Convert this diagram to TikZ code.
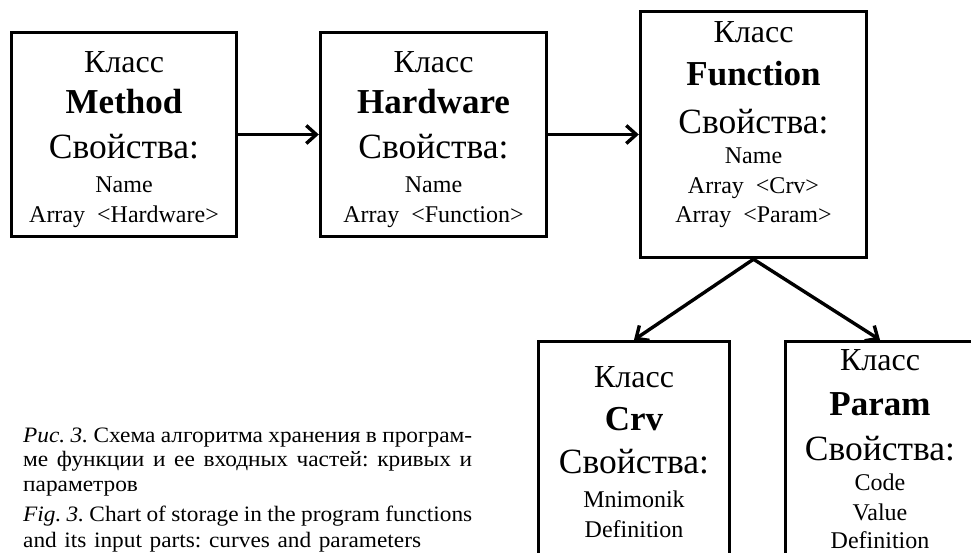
\documentclass[tikz,border=0pt]{standalone}
\usepackage{fontspec}
\setmainfont{Liberation Serif}
\newfontfamily\capfont{Liberation Serif}[FakeStretch=1.06]
\usetikzlibrary{arrows.meta}
\newcommand{\fk}{\fontsize{32}{34}\selectfont}
\newcommand{\fb}{\fontsize{35}{37}\selectfont\bfseries}
\newcommand{\fs}{\fontsize{35.5}{37}\selectfont}
\newcommand{\fn}{\fontsize{24}{26}\selectfont}
\newcommand{\fc}{\capfont\fontsize{22}{24}\selectfont\frenchspacing}
\newcommand{\gap}{\hspace{0.5em}}
\newcommand{\jline}[1]{\makebox[449pt][s]{\spaceskip=4pt plus 1fil\relax #1}}
\newcommand{\wline}[1]{{\spaceskip=7.6pt\relax #1}}
\begin{document}
\begin{tikzpicture}[x=1pt,y=-1pt,
  box/.style={draw, line width=3.4pt, inner sep=0pt},
  txt/.style={anchor=base, inner sep=0pt},
  captxt/.style={anchor=base west, inner sep=0pt, font=\fc},
  arr/.style={line width=3.4pt, -{Straight Barb[length=10pt,width=18pt,line width=3.4pt]}}]
\useasboundingbox (0,0) rectangle (971,552);
\clip (0,0) rectangle (971,552);
\fill[white] (0,0) rectangle (971,552);

% boxes
\node[box, minimum width=225pt, minimum height=204pt] (m) at (124,134.5) {};
\node[box, minimum width=226pt, minimum height=204pt] (h) at (433.5,134.5) {};
\node[box, minimum width=226pt, minimum height=246pt] (f) at (753.5,134.5) {};
\node[box, minimum width=191pt, minimum height=260pt] (c) at (634,471.6) {};
\node[box, minimum width=189pt, minimum height=260pt] (p) at (880,471.6) {};

% Method
\node[txt] (m1) at (124,72) {\fk Класс};
\node[txt] (m2) at (124,113) {\fb Method};
\node[txt] (m3) at (124,158) {\fs Свойства:};
\node[txt] (m4) at (124,192) {\fn Name};
\node[txt] (m5) at (124,222) {\fn Array\gap<Hardware>};

% Hardware
\node[txt] (h1) at (433.5,72) {\fk Класс};
\node[txt] (h2) at (433.5,113) {\fb Hardware};
\node[txt] (h3) at (433.5,158) {\fs Свойства:};
\node[txt] (h4) at (433.5,192) {\fn Name};
\node[txt] (h5) at (433.5,222) {\fn Array\gap<Function>};

% Function
\node[txt] (f1) at (753.5,42) {\fk Класс};
\node[txt] (f2) at (753.5,85) {\fb Function};
\node[txt] (f3) at (753.5,133) {\fs Свойства:};
\node[txt] (f4) at (753.5,163) {\fn Name};
\node[txt] (f5) at (753.5,193) {\fn Array\gap<Crv>};
\node[txt] (f6) at (753.5,222) {\fn Array\gap<Param>};

% Crv
\node[txt] (c1) at (634,387) {\fk Класс};
\node[txt] (c2) at (634,430) {\fb Crv};
\node[txt] (c3) at (634,473) {\fs Свойства:};
\node[txt] (c4) at (634,507) {\fn Mnimonik};
\node[txt] (c5) at (634,537) {\fn Definition};

% Param
\node[txt] (p1) at (880,370) {\fk Класс};
\node[txt] (p2) at (880,415) {\fb Param};
\node[txt] (p3) at (880,460) {\fs Свойства:};
\node[txt] (p4) at (880,490) {\fn Code};
\node[txt] (p5) at (880,520) {\fn Value};
\node[txt] (p6) at (880,548) {\fn Definition};

% connectors
\draw[arr] (m.east) -- (h.west);
\draw[arr] (h.east) -- (f.west);
\draw[arr] (f.south) -- (c.north);
\draw[arr] (f.south) -- (p.north);

% caption
\node[captxt] (k1) at (23,442) {\jline{\textit{Рис. 3.} Схема алгоритма хранения в програм-}};
\node[captxt] (k2) at (23,466) {\jline{ме функции и ее входных частей: кривых и}};
\node[captxt] (k3) at (23,491) {параметров};
\node[captxt] (k4) at (23,521) {\jline{\textit{Fig. 3.} Chart of storage in the program functions}};
\node[captxt] (k5) at (23,547) {\wline{and its input parts: curves and parameters}};
\end{tikzpicture}
\end{document}
